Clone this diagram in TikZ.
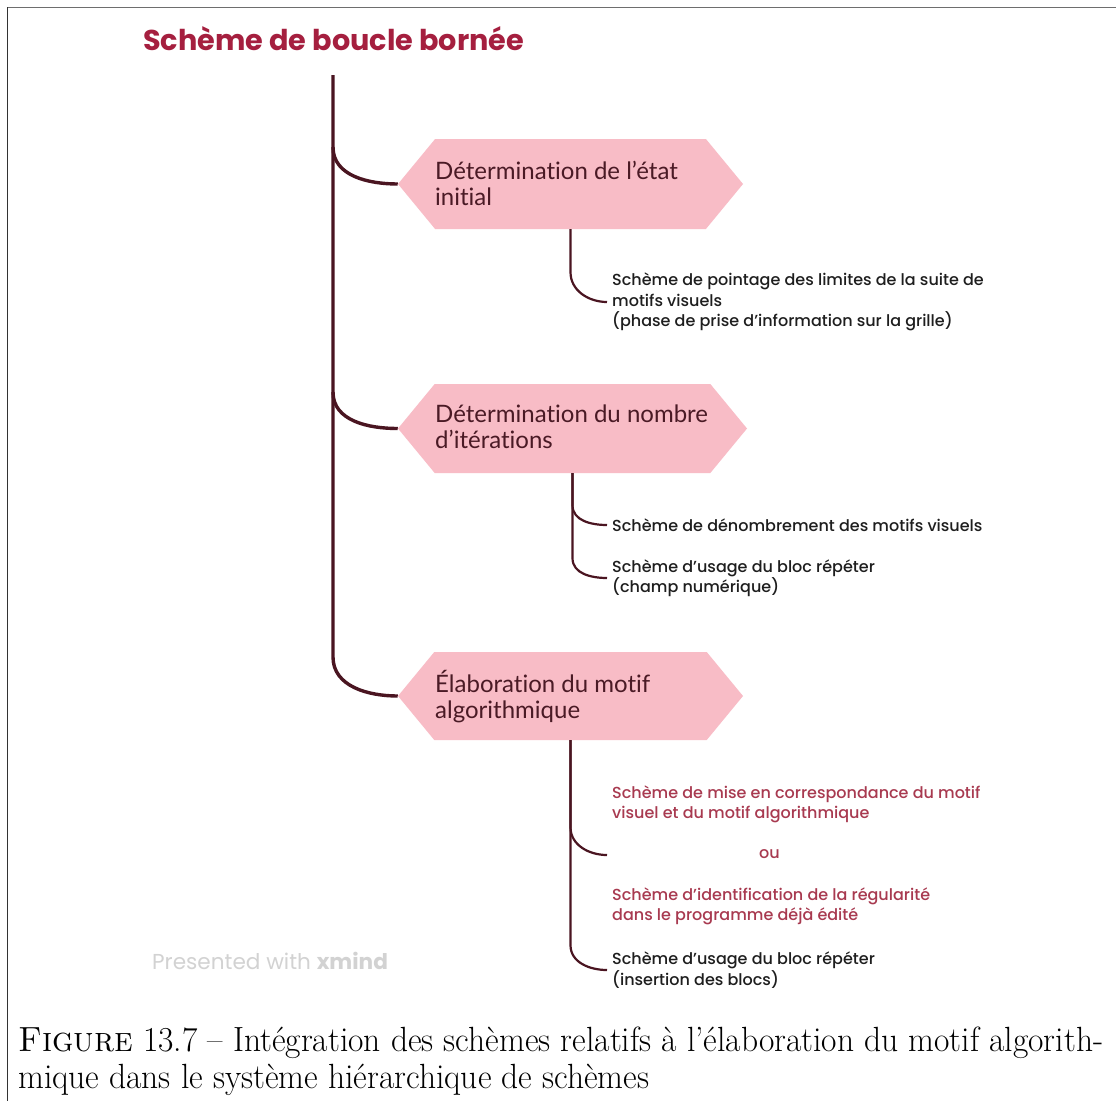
\documentclass[tikz,border=0pt]{standalone}
\usepackage{fontspec}
\usepackage{graphicx}
\usetikzlibrary{shapes.symbols}
\newfontfamily\popfont{Poppins}
\newfontfamily\popmed{Poppins}[UprightFont=*-Medium]
\newfontfamily\latofont{Lato}[Ligatures={NoCommon,NoContextual}]
\definecolor{trunk}{HTML}{4A1521}
\definecolor{boxfill}{HTML}{F8BCC6}
\definecolor{boxtext}{HTML}{4A1A25}
\definecolor{titlered}{HTML}{A51F3F}
\definecolor{subred}{HTML}{A83A50}
\definecolor{subblack}{HTML}{1E1E1E}
\definecolor{wmgray}{HTML}{D2D2D2}
\definecolor{framegray}{HTML}{6E6E6E}
\newsavebox\capboxA
\newsavebox\capboxB
\begin{document}
\sbox\capboxA{\fontsize{35}{40}\selectfont\textsc{Figure} 13.7 – Intégration des schèmes relatifs à l’élaboration du motif algorith-}%
\sbox\capboxB{\fontsize{35}{40}\selectfont mique dans le système hiérarchique de schèmes}%
\begin{tikzpicture}[x=1pt,y=-1pt,
  pinkbox/.style={shape=signal, signal to=east and west, signal pointer angle=101,
    fill=boxfill, draw=none, minimum width=345, minimum height=90, inner sep=0},
  boxtxt/.style={anchor=west, inner sep=0, align=left, text=boxtext,
    font=\latofont\fontsize{24}{26}\selectfont},
  subtxt/.style={anchor=west, inner xsep=5, inner ysep=0, align=left, text=subblack,
    font=\popmed\fontsize{16}{20.3}\selectfont},
  trunkline/.style={draw=trunk, line width=3.4},
  subline/.style={draw=trunk, line width=2.2}]
\useasboundingbox (0,0) rectangle (1116,1101);
\fill[white] (0,0) rectangle (1116,1101);
\draw[framegray, line width=1.8] (7,7.5) -- (1116,7.5);
\draw[black!80, line width=1.1] (7.5,7) -- (7.5,1101);

% title
\node[anchor=base west, inner sep=0, text=titlered,
  font=\popfont\bfseries\fontsize{28.7}{34}\selectfont] (title) at (143,50) {Schème de boucle bornée};

% trunk coordinates
\coordinate (top) at (333,75);
\coordinate (j1) at (333,147);
\coordinate (j2) at (333,392);
\coordinate (j3) at (333,657);

% boxes
\node[pinkbox] (b1) at (570.5,184) {};
\node[pinkbox, minimum width=349, minimum height=89] (b2) at (572.5,428.5) {};
\node[pinkbox, minimum height=88] (b3) at (570.5,696) {};

\node[boxtxt] (b1t) at (435,183.6) {Détermination de l’état\\initial};
\node[boxtxt] (b2t) at (435,426.7) {Détermination du nombre\\d’itérations};
\node[boxtxt] (b3t) at (435,696.4) {Élaboration du motif\\algorithmique};

% trunk and branches
\draw[trunkline] (top) -- (j3) to[out=-90,in=180] (b3.west);
\draw[trunkline] (j1) to[out=-90,in=180] (b1.west);
\draw[trunkline] (j2) to[out=-90,in=180] (b2.west);

% sub texts
\node[subtxt] (t1) at (607,302) {Schème de pointage des limites de la suite de\\motifs visuels\\(phase de prise d’information sur la grille)};
\node[subtxt] (t2) at (607,525) {Schème de dénombrement des motifs visuels};
\node[subtxt] (t3) at (607,578) {Schème d’usage du bloc répéter\\(champ numérique)};
\node[subtxt, text=subred] (t4) at (607,855) {Schème de mise en correspondance du motif\\visuel et du motif algorithmique\\[19.7pt]\hspace*{147pt}ou\\[21.4pt]Schème d’identification de la régularité\\dans le programme déjà édité};
\node[subtxt] (t5) at (607,970) {Schème d’usage du bloc répéter\\(insertion des blocs)};

% sub connectors
\draw[subline] (b1.south) -- ++(0,43) to[out=-90,in=180] (t1.west);
\draw[subline] (b2.south) -- ++(0,32) to[out=-90,in=180] (t2.west);
\draw[subline] (b2.south) -- ++(0,85) to[out=-90,in=180] (t3.west);
\draw[subline] (b3.south) -- ++(0,87) to[out=-90,in=180] (t4.west);
\draw[subline] (b3.south) -- ++(0,205) to[out=-90,in=180] (t5.west);

% watermark
\node[anchor=base west, inner sep=0, text=wmgray,
  font=\popfont\fontsize{21.6}{26}\selectfont] (wm) at (152,969) {Presented with \textbf{xmind}};

% caption
\pgfmathsetmacro\capsx{1085/\wd\capboxA}
\node[anchor=base west, inner sep=0] (cap1) at (18,1051) {\scalebox{\capsx}[1]{\usebox\capboxA}};
\node[anchor=base west, inner sep=0] (cap2) at (18,1088) {\scalebox{\capsx}[1]{\usebox\capboxB}};
\end{tikzpicture}
\end{document}
